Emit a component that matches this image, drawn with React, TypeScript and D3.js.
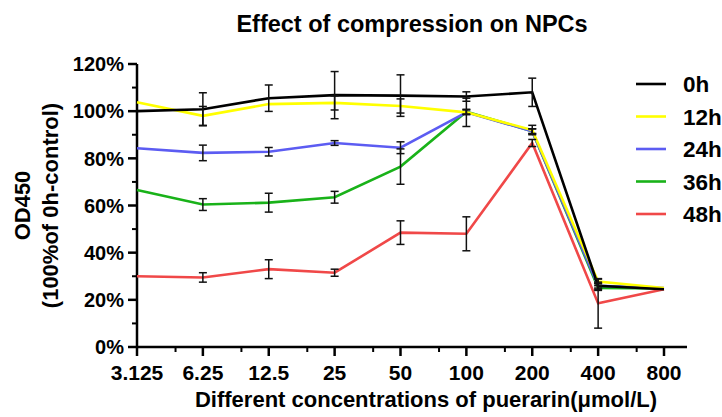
import React from 'react';
import * as d3 from 'd3';

const concentrations = [3.125, 6.25, 12.5, 25, 50, 100, 200, 400, 800];
const xTickLabels = ['3.125', '6.25', '12.5', '25', '50', '100', '200', '400', '800'];
const yTicks = [0, 20, 40, 60, 80, 100, 120];
const seriesNames = ['0h', '12h', '24h', '36h', '48h'];
const seriesColors = ['#000000', '#ffff00', '#5c5cf2', '#19b219', '#f04848'];

const mean0h = [100, 100.8, 105.5, 106.8, 106.6, 106.2, 108, 26, 24.5];
const mean12h = [103.8, 98, 103, 103.5, 102.2, 99.5, 92, 27.8, 25];
const mean24h = [84.3, 82.3, 82.8, 86.5, 84.5, 99.5, 91.5, 26, 25];
const mean36h = [66.6, 60.4, 61.2, 63.5, 76.5, 99.8, 91.5, 25, 24.8];
const mean48h = [30, 29.5, 33, 31.5, 48.5, 48, 86.5, 18.5, 24.5];

const err0h = [0, 7, 5.6, 10, 8.8, 2, 6, 1.5, 0.5];
const err12h = [0, 4, 0, 3, 3, 6, 2, 1, 0.5];
const err24h = [0, 3.3, 1.8, 1, 2.5, 1, 1, 1, 0.5];
const err36h = [0, 2.5, 4, 2.5, 7.5, 1, 1, 1, 0.5];
const err48h = [0, 2, 4, 1.5, 5, 7.2, 1.5, 10.5, 0.5];

const means = [mean0h, mean12h, mean24h, mean36h, mean48h];
const errs = [err0h, err12h, err24h, err36h, err48h];

const font = '"Liberation Sans", Arial, sans-serif';

export default function App() {
    const width = 722;
    const height = 417;
    const x = d3.scaleLog().base(2).domain([3.125, 800]).range([137, 664]);
    const y = d3.scaleLinear().domain([0, 120]).range([347, 64]);
    const xEnd = 687;

    const line = d3.line<number>()
        .x((d, i) => x(concentrations[i]))
        .y(d => y(d));

    const minorX = concentrations.map(c => c * 1.5).filter(c => x(c) < xEnd);
    const minorY = d3.range(10, 120, 20);

    const order = [4, 3, 2, 1, 0];

    return (
        <div style={{position: 'fixed', left: 0, top: 0}}>
            <svg width={width} height={height} style={{display: 'block', background: '#fff'}} fontFamily={font}>
                <text x={412} y={32} textAnchor="middle" fontSize={23.5} fontWeight="bold">
                    Effect of compression on NPCs
                </text>

                {/* axes */}
                <line x1={137} x2={137} y1={y(120)} y2={y(0) + 1} stroke="#000" strokeWidth={2.5}/>
                <line x1={136} x2={xEnd} y1={y(0)} y2={y(0)} stroke="#000" strokeWidth={2.5}/>
                {yTicks.map(t => (
                    <g key={'yt' + t}>
                        <line x1={128} x2={137} y1={y(t)} y2={y(t)} stroke="#000" strokeWidth={2.5}/>
                        <text x={124} y={y(t)} dy="0.36em" textAnchor="end" fontSize={20} fontWeight="bold">{t + '%'}</text>
                    </g>
                ))}
                {minorY.map(t => (
                    <line key={'ym' + t} x1={132} x2={137} y1={y(t)} y2={y(t)} stroke="#000" strokeWidth={2}/>
                ))}
                {concentrations.map((c, i) => (
                    <g key={'xt' + c}>
                        <line x1={x(c)} x2={x(c)} y1={y(0)} y2={y(0) + 9} stroke="#000" strokeWidth={2.5}/>
                        <text x={x(c)} y={y(0) + 33} textAnchor="middle" fontSize={21} fontWeight="bold">{xTickLabels[i]}</text>
                    </g>
                ))}
                {minorX.map(c => (
                    <line key={'xm' + c} x1={x(c)} x2={x(c)} y1={y(0)} y2={y(0) + 5} stroke="#000" strokeWidth={2}/>
                ))}

                <text x={426} y={407} textAnchor="middle" fontSize={22} fontWeight="bold">
                    Different concentrations of puerarin(μmol/L)
                </text>
                <g transform={'translate(30,' + y(60) + ') rotate(-90)'}>
                    <text textAnchor="middle" fontSize={22} fontWeight="bold">OD450</text>
                    <text y={28} textAnchor="middle" fontSize={22} fontWeight="bold">(100%of 0h-control)</text>
                </g>

                {/* lines */}
                {order.map(s => (
                    <path key={'l' + s} d={line(means[s]) || ''} fill="none"
                          stroke={seriesColors[s]} strokeWidth={2.6} strokeLinejoin="miter"/>
                ))}

                {/* error bars */}
                {order.map(s => (
                    <g key={'e' + s} stroke="#111" strokeWidth={1.5}>
                        {means[s].map((m, i) => errs[s][i] > 0.6 ? (
                            <g key={i}>
                                <line x1={x(concentrations[i])} x2={x(concentrations[i])}
                                      y1={y(m - errs[s][i])} y2={y(m + errs[s][i])}/>
                                <line x1={x(concentrations[i]) - 4} x2={x(concentrations[i]) + 4}
                                      y1={y(m - errs[s][i])} y2={y(m - errs[s][i])}/>
                                <line x1={x(concentrations[i]) - 4} x2={x(concentrations[i]) + 4}
                                      y1={y(m + errs[s][i])} y2={y(m + errs[s][i])}/>
                            </g>
                        ) : null)}
                    </g>
                ))}

                {/* legend */}
                {seriesNames.map((n, i) => (
                    <g key={n} transform={'translate(636,' + (84 + i * 32.5) + ')'}>
                        <line x1={0} x2={30} y1={0} y2={0} stroke={seriesColors[i]} strokeWidth={2.6}/>
                        <text x={47} dy="0.36em" fontSize={22.5} fontWeight="bold">{n}</text>
                    </g>
                ))}
            </svg>
        </div>
    );
}
